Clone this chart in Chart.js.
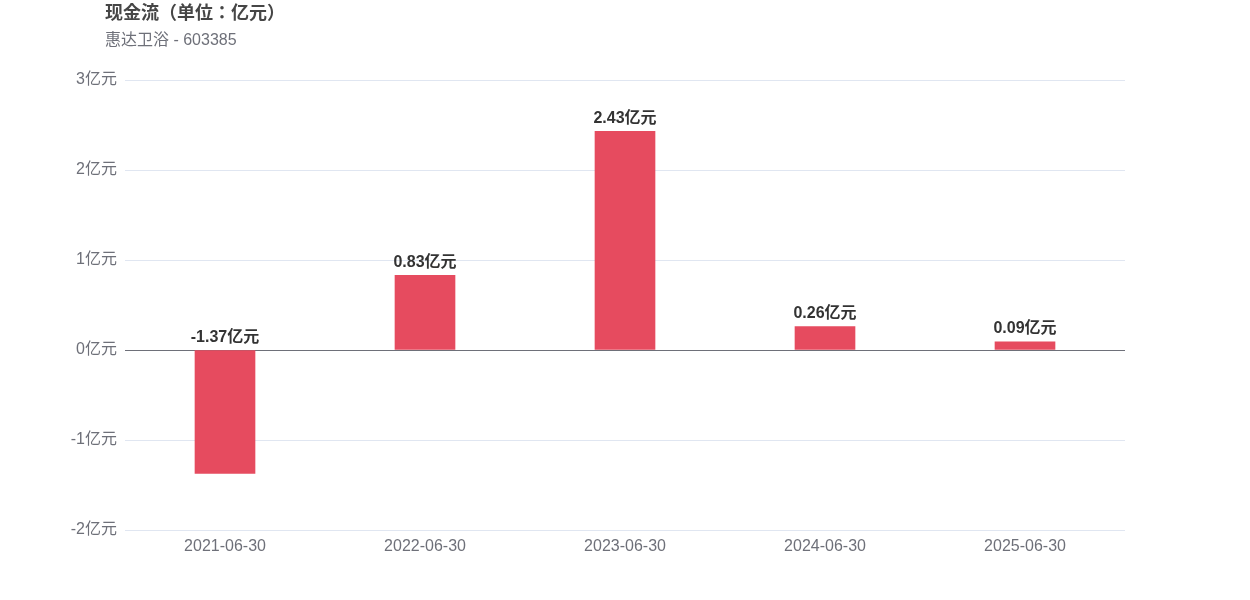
<!DOCTYPE html>
<html>
<head>
	<meta charset="utf-8">
	<script src="https://cdn.jsdelivr.net/npm/chart.js@4/dist/chart.umd.min.js"></script>
	<style>
	html, body { margin: 0; padding: 0; background: #fff; }
	#holder { width: 1250px; height: 600px; position: relative; }
	</style>
</head>
<body>
<div id="holder"><canvas id="chart"></canvas></div>
<script>
var FONT = '"Liberation Sans", "Noto Sans CJK SC", Arial, sans-serif';
var TITLE_FONT = '"Liberation Sans", "Noto Sans CJK JP", Arial, sans-serif';

var titleText = '现金流（单位：亿元）';
var subtitleText = '惠达卫浴 - 603385';
var categories = ['2021-06-30', '2022-06-30', '2023-06-30', '2024-06-30', '2025-06-30'];
var cashFlow = [-1.37, 0.83, 2.43, 0.26, 0.09];
var yTicks = [-2, -1, 0, 1, 2, 3];

var headerPlugin = {
	id: 'header',
	afterDraw: function(chart) {
		var ctx = chart.ctx;
		ctx.save();
		ctx.textAlign = 'left';
		ctx.textBaseline = 'middle';
		ctx.fillStyle = '#464646';
		ctx.font = 'bold 18px ' + TITLE_FONT;
		ctx.fillText(titleText, 105, 14);
		ctx.fillStyle = '#6e7079';
		ctx.font = '16px ' + FONT;
		ctx.fillText(subtitleText, 105, 41);
		ctx.restore();
	}
};

var valueLabels = {
	id: 'valueLabels',
	afterDatasetsDraw: function(chart) {
		var ctx = chart.ctx;
		var meta = chart.getDatasetMeta(0);
		ctx.save();
		ctx.font = 'bold 16px ' + FONT;
		ctx.fillStyle = '#333333';
		ctx.textAlign = 'center';
		ctx.textBaseline = 'bottom';
		meta.data.forEach(function(bar, i) {
			var top = Math.min(bar.y, bar.base);
			ctx.fillText(cashFlow[i].toFixed(2) + '亿元', bar.x, top - 5);
		});
		ctx.restore();
	}
};

new Chart(document.getElementById('chart'), {
	type: 'bar',
	data: {
		labels: categories,
		datasets: [{
			data: cashFlow,
			backgroundColor: '#e64b5f',
			barThickness: 60
		}]
	},
	options: {
		responsive: true,
		maintainAspectRatio: false,
		animation: false,
		layout: { padding: { top: 80, right: 125, bottom: 0, left: 0 } },
		plugins: {
			legend: { display: false },
			tooltip: { enabled: false }
		},
		scales: {
			x: {
				grid: { display: false },
				border: { display: false },
				ticks: { color: '#6e7079', font: { family: FONT, size: 16 }, padding: -1 },
				afterFit: function(scale) { scale.height = 70; }
			},
			y: {
				min: -2,
				max: 3,
				afterBuildTicks: function(scale) {
					scale.ticks = yTicks.map(function(v) { return { value: v }; });
				},
				grid: {
					color: function(c) { return c.tick && c.tick.value === 0 ? '#6e7079' : '#e0e6f1'; },
					drawTicks: false
				},
				border: { display: false },
				ticks: {
					color: '#6e7079',
					font: { family: FONT, size: 16 },
					padding: 8,
					callback: function(v) { return v + '亿元'; }
				},
				afterFit: function(scale) { scale.width = 125; }
			}
		}
	},
	plugins: [headerPlugin, valueLabels]
});
</script>
</body>
</html>
